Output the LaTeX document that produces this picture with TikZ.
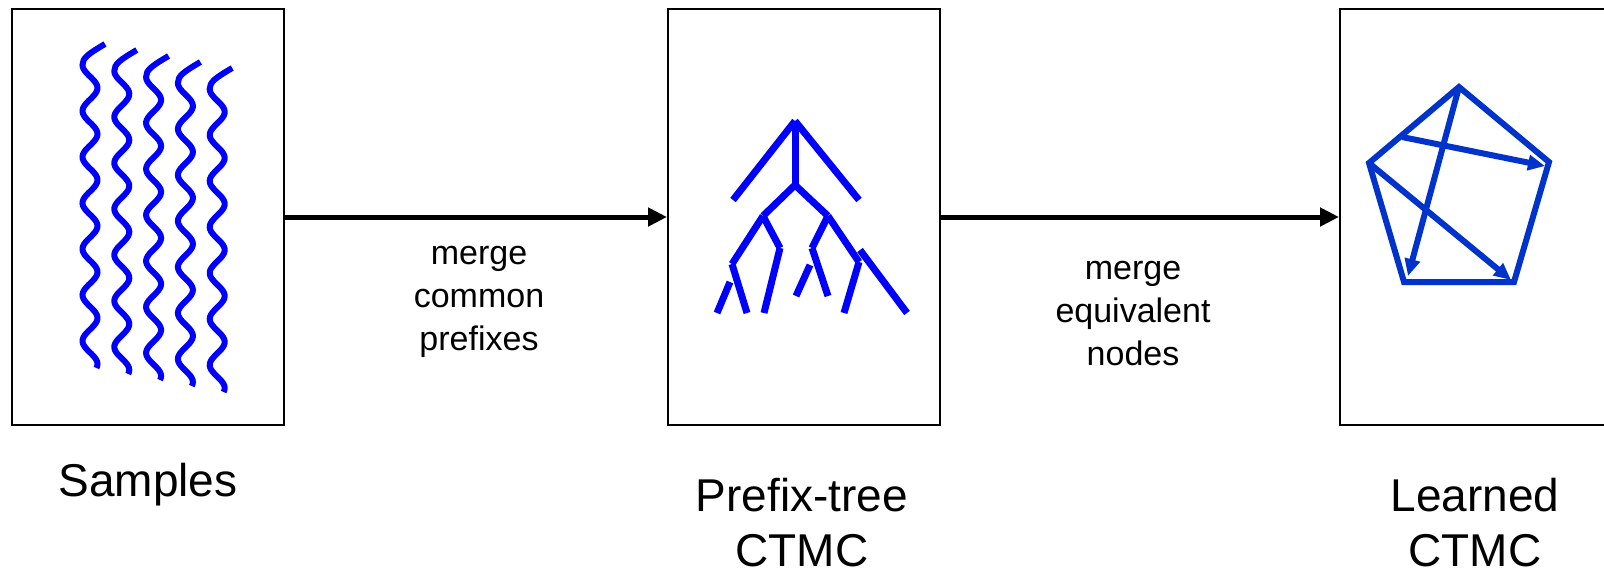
\documentclass[tikz,border=0pt]{standalone}
\usepackage{fontspec}
\setmainfont{Liberation Sans}
\usetikzlibrary{arrows.meta,positioning}
\definecolor{wavblue}{RGB}{0,0,255}
\definecolor{grblue}{RGB}{0,51,204}
\tikzset{
  stagebox/.style={draw, line width=2pt, minimum width=272pt, minimum height=416pt, inner sep=0pt},
  steparr/.style={-{Triangle[length=19pt,width=18pt]}, line width=5pt},
  midlab/.style={align=center, font=\fontsize{34}{43}\selectfont},
  stagelab/.style={align=center, font=\fontsize{46}{55}\selectfont},
}
\begin{document}
\begin{tikzpicture}[
  x=1pt, y=-1pt,
  wave/.style={draw=wavblue, line width=6pt},
  branch/.style={draw=wavblue, line width=7pt},
  pentedge/.style={draw=grblue, line width=6pt},
  pentarr/.style={pentedge, -{Triangle[length=17pt,width=15pt]}},
]
  \useasboundingbox (0,0) rectangle (1604,576);
  \node[stagebox] (S) at (148,217) {};
  \node[stagebox] (P) at (804,217) {};
  \node[stagebox] (L) at (1476,217) {};
  \draw[steparr] (S) -- (P);
  \draw[steparr] (P) -- (L);
  \node[midlab, anchor=base] (m1) at (479,350) {merge\\common\\prefixes};
  \node[midlab, anchor=base] (m2) at (1133,365) {merge\\equivalent\\nodes};
  \node[stagelab, anchor=base] (sl) at (148,496) {Samples};
  \node[stagelab, anchor=base] (pl) at (802,566) {Prefix-tree\\CTMC};
  \node[stagelab, anchor=base] (ll) at (1475,566) {Learned\\CTMC};
  \foreach \i in {0,...,4}{
    \pgfmathsetmacro\xc{90+31.8*\i}
    \pgfmathsetmacro\yo{6*\i}
    \draw[wave] (\xc+15,44+\yo) .. controls (\xc-2,54+\yo) and (\xc-7.5,58+\yo) .. (\xc-7.5,65+\yo)
      -- plot[domain=65:368, samples=150, smooth, variable=\t] ({\xc-7.5*cos((\t-65)/46*360)}, {\t+\yo});
  }
  \coordinate (t0) at (795,121);
  \coordinate (tl) at (733,200);
  \coordinate (tr) at (859,200);
  \coordinate (t1) at (795,185);
  \coordinate (t2) at (763,216);
  \coordinate (t3) at (828,216);
  \coordinate (t4) at (732,264);
  \coordinate (t5) at (780,248);
  \coordinate (t6) at (764,313);
  \coordinate (t7) at (747,313);
  \coordinate (t8a) at (730,282);
  \coordinate (t8b) at (717,313);
  \coordinate (t9) at (812,248);
  \coordinate (t10) at (859,262);
  \coordinate (t11) at (828,296);
  \coordinate (t12a) at (810,265);
  \coordinate (t12b) at (796,296);
  \coordinate (t13) at (844,313);
  \coordinate (t14a) at (860,250);
  \coordinate (t14b) at (907,313);
  \foreach \a/\b in {t0/tl,t0/tr,t0/t1,t1/t2,t1/t3,t2/t4,t2/t5,t5/t6,t4/t7,t8a/t8b,
                     t3/t9,t3/t10,t9/t11,t12a/t12b,t10/t13,t14a/t14b}
    \draw[branch] (\a) -- (\b);
  \coordinate (pt) at (1459,87);
  \coordinate (pl) at (1369,163);
  \coordinate (pr) at (1549,162);
  \coordinate (pbl) at (1404,282);
  \coordinate (pbr) at (1514,282);
  \coordinate (pm) at (1402,137);
  \coordinate (a1) at (1408,276);
  \coordinate (a2) at (1545,166);
  \coordinate (a3) at (1511,280);
  \draw[pentedge] (pt) -- (pr) -- (pbr) -- (pbl) -- (pl) -- cycle;
  \draw[pentarr] (pt) -- (a1);
  \draw[pentarr] (pm) -- (a2);
  \draw[pentarr] (pl) -- (a3);
\end{tikzpicture}
\end{document}
